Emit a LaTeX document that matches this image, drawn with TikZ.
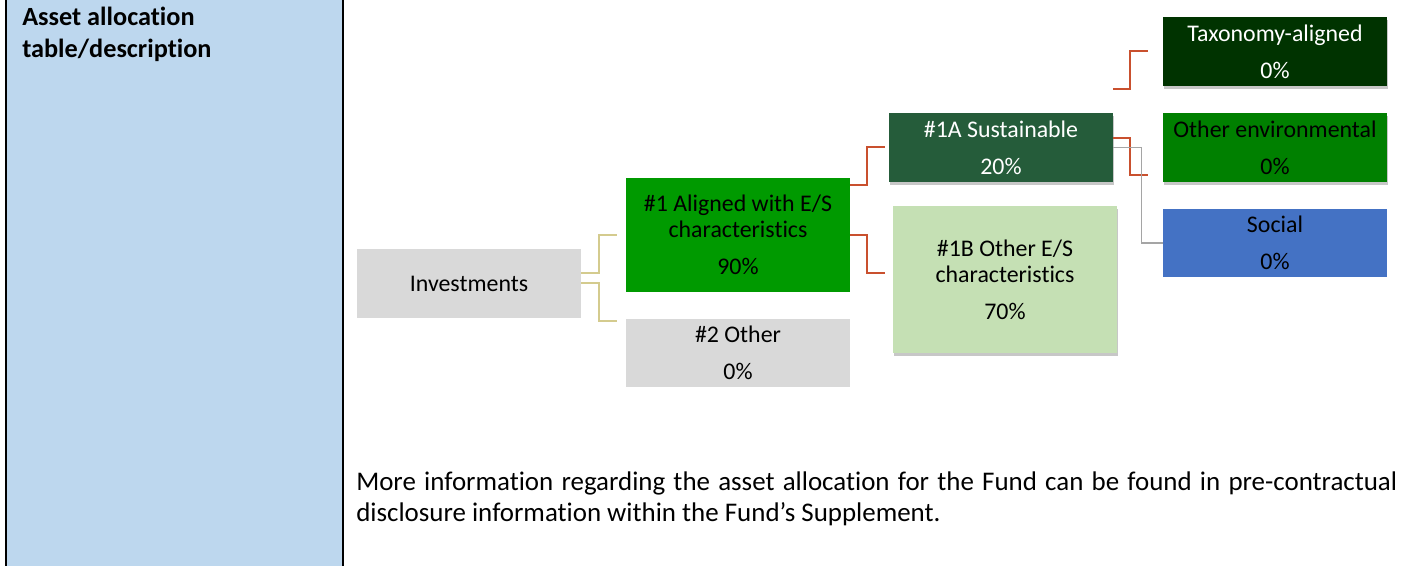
\documentclass[tikz,border=0pt]{standalone}
\usepackage{fontspec}
\setmainfont{Carlito}[Ligatures=NoCommon]
\usetikzlibrary{shadows}

\definecolor{colblue}{HTML}{BDD7EE}
\definecolor{boxgrey}{HTML}{D9D9D9}
\definecolor{esgreen}{HTML}{009A00}
\definecolor{sustgreen}{HTML}{255C3A}
\definecolor{palegreen}{HTML}{C5E0B4}
\definecolor{taxgreen}{HTML}{003300}
\definecolor{envgreen}{HTML}{008000}
\definecolor{socblue}{HTML}{4472C4}
\definecolor{linktan}{HTML}{D4CB8E}
\definecolor{linkred}{HTML}{C9502E}
\definecolor{linkgrey}{HTML}{A5A5A5}

\begin{document}
\begin{tikzpicture}[
        x=0.75pt, y=-0.75pt,
        box/.style={
            rectangle,
            minimum width=168pt,
            inner sep=2pt,
            align=center,
            font=\fontsize{17.9}{19.5}\selectfont
        },
        shadowed/.style={drop shadow={shadow xshift=1pt, shadow yshift=-2.25pt,
            fill=black, opacity=0.22}},
        tanlink/.style={draw=linktan, line width=1.5pt},
        redlink/.style={draw=linkred, line width=1.5pt},
        greylink/.style={draw=linkgrey, line width=1.1pt}
    ]

    \useasboundingbox (0,0) rectangle (1411,566);

    \fill[colblue] (7,0) rectangle (342,566);
    \draw[line width=1.5pt] (6,0) -- (6,566);
    \draw[line width=1.9pt] (343,0) -- (343,566);

    \node[anchor=base west, inner sep=0pt, align=left,
          font=\bfseries\fontsize{19.7}{24}\selectfont] (title) at (22,58)
        {Asset allocation\\table/description};

    \node[box, fill=boxgrey, minimum height=51.75pt] (inv) at (469,283.5)
        {Investments};

    \node[box, fill=esgreen, minimum height=85.5pt] (aligned) at (738,235)
        {\#1 Aligned with E/S\\characteristics\\[8pt]90\%};

    \node[box, fill=boxgrey, minimum height=51pt] (other) at (738,353)
        {\#2 Other\\[8pt]0\%};

    \node[box, shadowed, fill=sustgreen, text=white, minimum height=51.75pt] (sust) at (1001,147.5)
        {\#1A Sustainable\\[8pt]20\%};

    \node[box, shadowed, fill=palegreen, minimum height=110.25pt] (otheres) at (1005,279.5)
        {\#1B Other E/S\\characteristics\\[8pt]70\%};

    \node[box, shadowed, fill=taxgreen, text=white, minimum height=51.75pt] (taxo) at (1275,51.5)
        {Taxonomy-aligned\\[8pt]0\%};

    \node[box, shadowed, fill=envgreen, minimum height=51.75pt] (env) at (1275,147.5)
        {Other environmental\\[8pt]0\%};

    \node[box, fill=socblue, minimum height=51pt] (social) at (1275,243)
        {Social\\[8pt]0\%};

    \draw[tanlink, shorten >=6.75pt] (inv.east) ++(0,-10.5) -- ++(18,0) |- (aligned.west);
    \draw[tanlink, shorten >=6.75pt] (inv.east) -- ++(18,0) |- ([yshift=-1.5pt]other.north west);
    \draw[redlink, shorten >=3pt] (aligned.north east) ++(0,7) -- ++(17,0) |- (sust.west);
    \draw[redlink, shorten >=6pt] (aligned.east) -- ++(17,0) |- ([yshift=4.9pt]otheres.west);
    \draw[redlink, shorten >=11.25pt] (sust.north east) ++(0,-24) -- ++(17,0) |- (taxo.west);
    \draw[redlink, shorten >=11.25pt] (sust.east) ++(0,-9.5) -- ++(17,0) |- ([yshift=5.25pt]env.south west);
    \draw[greylink] (sust.east) -- ++(28,0) |- (social.west);

    \node[anchor=base west, inner sep=0pt, text width=780.75pt, align=justify,
          font=\fontsize{20.2}{23.25}\selectfont] (note) at (356,491)
        {\exhyphenpenalty=10000 More information regarding the asset allocation for the Fund can be found in pre-contractual\linebreak disclosure information within the Fund’s Supplement.};

\end{tikzpicture}
\end{document}
